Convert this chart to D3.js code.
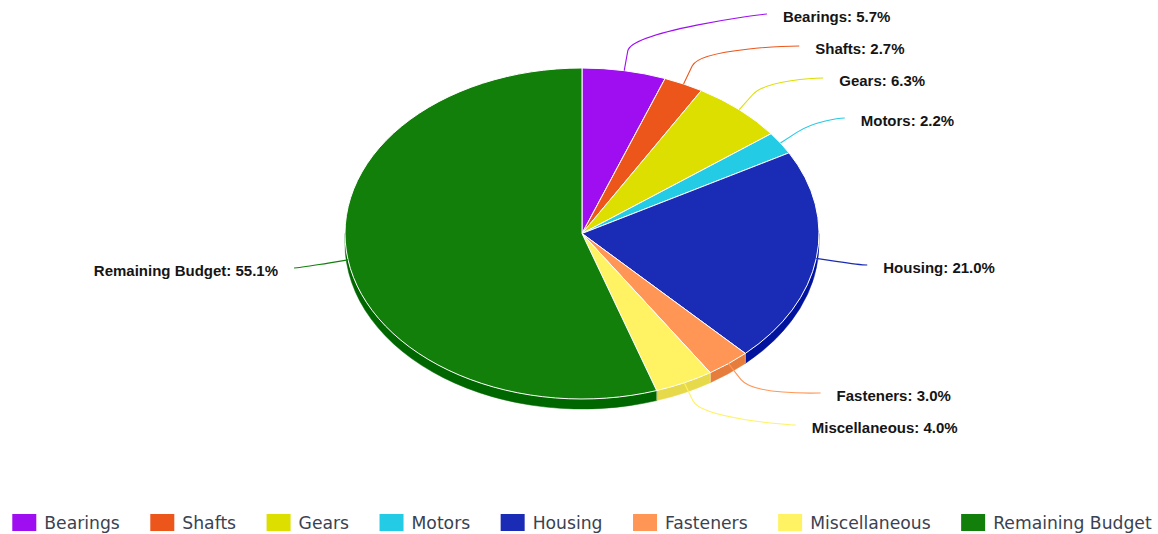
<!DOCTYPE html>
<html>
<head>
<meta charset="utf-8">
<script src="https://cdn.jsdelivr.net/npm/d3@7"></script>
<style>
  html, body { margin: 0; padding: 0; background: #ffffff; }
  svg { display: block; }
</style>
</head>
<body>
<svg id="chart" width="1158" height="534"></svg>
<script>
// Budget breakdown, percent of total
const categories = ["Bearings", "Shafts", "Gears", "Motors", "Housing", "Fasteners", "Miscellaneous", "Remaining Budget"];
const shares = [5.7, 2.7, 6.3, 2.2, 21.0, 3.0, 4.0, 55.1];
const colors = ["#9F0EF0", "#ED561B", "#DDDF00", "#24CBE5", "#1A2BB5", "#FF9655", "#FFF263", "#127F0B"];
// Vertical slot of each data label after spreading them apart
const labelRowsY = [17, 49, 81, 121, 268, 396, 428, 271];

const svg = d3.select("#chart");

// Tilted pie geometry
const cx = 582, cy = 233.5, rx = 237, ry = 165.5, depth = 10;
const labelRadiusRight = 287, labelRadiusLeft = 290, breakOut = 20, textGap = 16;

const data = categories.map((name, i) => ({ name, value: shares[i], color: colors[i], row: labelRowsY[i] }));
const arcs = d3.pie().sort(null).value(d => d.value)(data);

function pt(a, dy = 0, grow = 0) {
  return [cx + (rx + grow) * Math.sin(a), cy - (ry + grow) * Math.cos(a) + dy];
}
function sideColor(c) {
  const k = d3.rgb(c);
  return d3.rgb(Math.max(0, k.r - 25.5), Math.max(0, k.g - 25.5), Math.max(0, k.b - 25.5)).formatHex();
}

// Outer wall, only on the front half
const frontA = Math.PI / 2, frontB = 3 * Math.PI / 2;
const sides = svg.append("g");
arcs.forEach(a => {
  const s = Math.max(a.startAngle, frontA), e = Math.min(a.endAngle, frontB);
  if (e <= s) return;
  const p0 = pt(s), p1 = pt(e), p2 = pt(e, depth), p3 = pt(s, depth);
  sides.append("path")
    .attr("d", `M${p0}A${rx},${ry} 0 0 1 ${p1}L${p2}A${rx},${ry} 0 0 0 ${p3}Z`)
    .attr("fill", sideColor(a.data.color))
    .attr("stroke", sideColor(a.data.color))
    .attr("stroke-width", 0.5);
});
// faint seams between wall pieces
arcs.forEach(a => {
  const ang = a.startAngle;
  if (ang > frontA && ang < frontB) {
    const p = pt(ang), q = pt(ang, depth);
    sides.append("line").attr("x1", p[0]).attr("y1", p[1]).attr("x2", q[0]).attr("y2", q[1])
      .attr("stroke", "#ffffff").attr("stroke-opacity", 0.35).attr("stroke-width", 1);
  }
});

// Top faces
const tops = svg.append("g");
arcs.forEach(a => {
  const p0 = pt(a.startAngle), p1 = pt(a.endAngle);
  const large = (a.endAngle - a.startAngle) > Math.PI ? 1 : 0;
  tops.append("path")
    .attr("d", `M${cx},${cy}L${p0}A${rx},${ry} 0 ${large} 1 ${p1}Z`)
    .attr("fill", a.data.color)
    .attr("stroke", "#ffffff")
    .attr("stroke-width", 1)
    .attr("stroke-linejoin", "round");
});

// Data labels with soft connectors
const labels = svg.append("g");
arcs.forEach(a => {
  const mid = (a.startAngle + a.endAngle) / 2;
  const side = Math.sin(mid) >= 0 ? 1 : -1;
  const R = side > 0 ? labelRadiusRight : labelRadiusLeft;
  const touching = pt(mid);
  const breakAt = pt(mid, 0, breakOut);
  const ey = a.data.row - 3;
  const dyc = Math.min(Math.abs(ey - cy), R);
  const ex = cx + side * Math.sqrt(R * R - dyc * dyc);
  const c1 = [ex - side * 5, ey];
  const c2 = [2 * breakAt[0] - touching[0], 2 * breakAt[1] - touching[1]];
  labels.append("path")
    .attr("d", `M${ex},${ey}C${c1} ${c2} ${breakAt}L${touching}`)
    .attr("fill", "none")
    .attr("stroke", a.data.color)
    .attr("stroke-width", 1.1);
  labels.append("text")
    .attr("x", ex + side * textGap)
    .attr("y", a.data.row)
    .attr("dy", "0.35em")
    .attr("text-anchor", side > 0 ? "start" : "end")
    .attr("font-family", "'Liberation Sans', Arial, sans-serif")
    .attr("font-weight", "bold")
    .attr("font-size", "15px")
    .attr("fill", "#151515")
    .text(`${a.data.name}: ${d3.format(".1f")(a.data.value)}%`);
});

// Legend
const legend = svg.append("g");
const symW = 24, symH = 17, symGap = 8, itemGap = 30.5, legendY = 523;
const items = data.map(d => {
  const g = legend.append("g");
  g.append("rect").attr("width", symW).attr("height", symH).attr("y", legendY - 9).attr("fill", d.color);
  const t = g.append("text")
    .attr("x", symW + symGap)
    .attr("y", legendY)
    .attr("dy", "0.35em")
    .attr("font-family", "'DejaVu Sans', sans-serif")
    .attr("font-size", "17.2px")
    .attr("fill", "#3a4252")
    .text(d.name);
  return { g, w: symW + symGap + t.node().getComputedTextLength() };
});
const total = d3.sum(items, d => d.w) + itemGap * (items.length - 1);
let x = 582 - total / 2;
items.forEach(it => { it.g.attr("transform", `translate(${x},0)`); x += it.w + itemGap; });
</script>
</body>
</html>
